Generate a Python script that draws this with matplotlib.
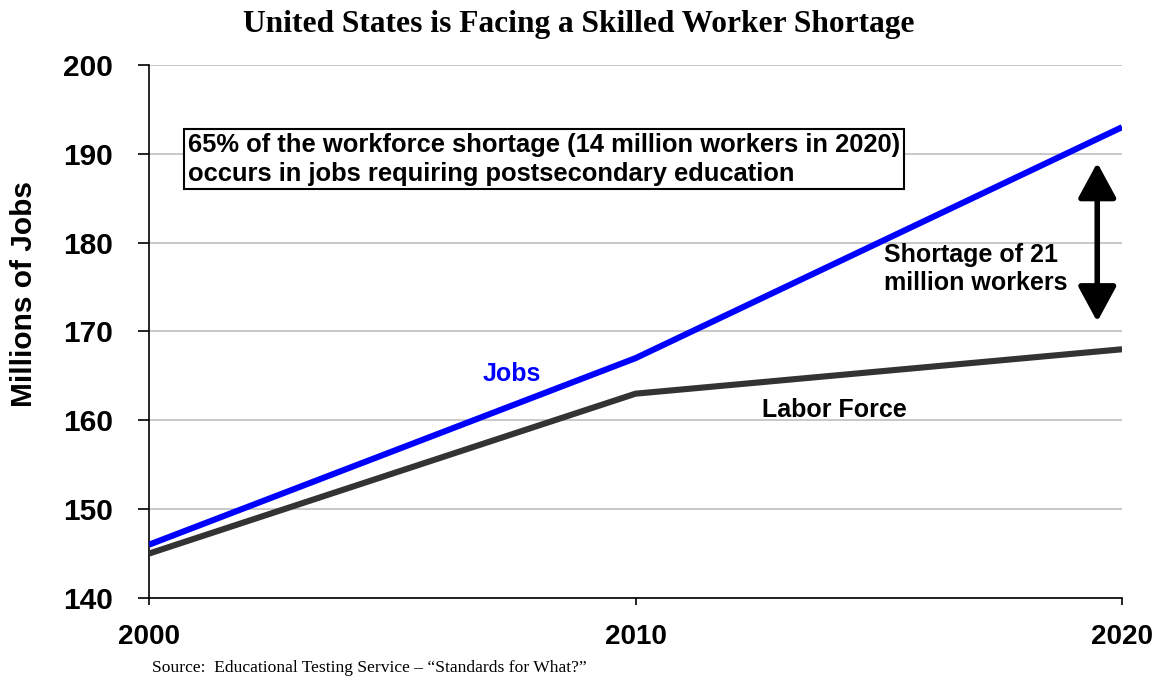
import matplotlib.pyplot as plt
from matplotlib.patches import FancyArrowPatch

years = [2000, 2010, 2020]
jobs = [146, 167, 193]
labor_force = [145, 163, 168]
y_ticks = [140, 150, 160, 170, 180, 190, 200]
x_ticks = [2000, 2010, 2020]

fig = plt.figure(figsize=(11.57, 6.77), dpi=100)
ax = fig.add_axes([0.1288, 0.1167, 0.841, 0.7873])

ax.plot(years, jobs, color='#0000ff', lw=4.4, solid_capstyle='butt', zorder=3)
ax.plot(years, labor_force, color='#333333', lw=4.4, solid_capstyle='butt', zorder=3)

ax.set_xlim(2000, 2020)
ax.set_ylim(140, 200)
ax.set_xticks(x_ticks)
ax.set_yticks(y_ticks)
ax.set_xticklabels([str(x) for x in x_ticks], fontsize=20, fontweight='bold',
                   family='Liberation Sans')
ax.set_yticklabels([str(y) for y in y_ticks], fontsize=21.5, fontweight='bold',
                   family='Liberation Sans')
ax.tick_params(axis='y', direction='out', length=8, width=1.2, pad=18)
ax.tick_params(axis='x', direction='out', length=5, width=1.2, pad=14)

ax.grid(axis='y', color='#c8c8c8', lw=1.4)
ax.set_axisbelow(True)
for side in ['top', 'right']:
    ax.spines[side].set_visible(False)
for side in ['left', 'bottom']:
    ax.spines[side].set_linewidth(1.2)

ax.set_ylabel('Millions of Jobs', fontsize=21.5, fontweight='bold',
              family='Liberation Sans')
ax.yaxis.set_label_coords(-0.114, 0.57)

fig.text(0.5, 0.964, 'United States is Facing a Skilled Worker Shortage',
         ha='center', va='center', fontsize=22.6, fontweight='bold',
         family='Liberation Serif')
fig.text(0.131, 0.013, 'Source:  Educational Testing Service \u2013 \u201cStandards for What?\u201d',
         ha='left', va='center', fontsize=12.6, family='Liberation Serif')

ax.text(2000.8, 189.4, '65% of the workforce shortage (14 million workers in 2020)\noccurs in jobs requiring postsecondary education',
        ha='left', va='center', fontsize=18.4, fontweight='bold',
        family='Liberation Sans', linespacing=1.25,
        bbox=dict(boxstyle='square,pad=0.14', fc='white', ec='black', lw=1.5))

ax.text(2007.45, 165.2, 'Jobs', color='#0000ff', ha='center', va='center',
        fontsize=18, fontweight='bold', family='Liberation Sans')
ax.text(2012.6, 161.2, 'Labor Force', color='black', ha='left', va='center',
        fontsize=18, fontweight='bold', family='Liberation Sans')
ax.text(2015.1, 177.0, 'Shortage of 21\nmillion workers', color='black',
        ha='left', va='center', fontsize=18, fontweight='bold',
        family='Liberation Sans', linespacing=1.2)

arrow = FancyArrowPatch((2019.49, 171.1), (2019.49, 189.0),
                        arrowstyle='<|-|>,head_length=1.2,head_width=0.65',
                        mutation_scale=18, color='black', lw=4,
                        shrinkA=0, shrinkB=0)
ax.add_patch(arrow)

fig.savefig('out.png', dpi=100)
